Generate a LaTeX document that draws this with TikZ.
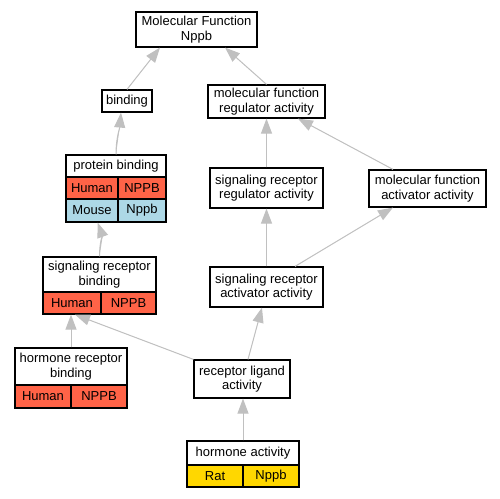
\documentclass[tikz,border=0pt]{standalone}
\usepackage{fontspec}
\setmainfont{Liberation Sans}
\usepackage{tikz}
\definecolor{humanred}{HTML}{FF6347}
\definecolor{mouseblue}{HTML}{ADD8E6}
\definecolor{ratgold}{HTML}{FFD700}
\definecolor{edgegray}{HTML}{C0C0C0}
\usetikzlibrary{positioning, arrows.meta, calc}

\begin{document}
\begin{tikzpicture}[x=0.75pt, y=-0.75pt]
    \tikzstyle{every node}=[font=\fontsize{9.75pt}{11pt}\selectfont] \tikzstyle{term} =
    [rectangle, draw=black, line width=0.9pt, fill=white, align=center, inner sep=0pt]
    \tikzstyle{box} = [term, minimum width=#1*0.75pt]
    \tikzstyle{cell} = [rectangle, draw=black, line width=0.9pt, inner sep=0pt, minimum height=22*0.75pt]
    \tikzstyle{edge} = [-{Triangle[length=11.25pt,width=8.25pt]}, draw=edgegray, fill=edgegray, line width=0.75pt]

    \useasboundingbox (0,0) rectangle (500,499);

    % plain terms
    \node[box=121, minimum height=35*0.75pt](mf) at (196.5,29.5) {Molecular Function\\Nppb};
    \node[box=50, minimum height=22*0.75pt](bind) at (127,101) {binding};
    \node[box=117, minimum height=33*0.75pt](mfreg) at (266.5,101.5) {molecular function\\regulator activity};
    \node[box=113, minimum height=40*0.75pt](srreg) at (266.5,188) {signaling receptor\\regulator activity};
    \node[box=117, minimum height=37*0.75pt](mfact) at (427.5,188.5) {molecular function\\activator activity};
    \node[box=113, minimum height=40*0.75pt](sract) at (266.5,287) {signaling receptor\\activator activity};
    \node[box=96, minimum height=38*0.75pt](rlig) at (242,379) {receptor ligand\\activity};

    % terms with gene tables
    \node[box=100, minimum height=22*0.75pt](pb) at (116,166) {protein binding};
    \node[cell, fill=humanred, minimum width=52*0.75pt](pbh1) at (92,188) {Human};
    \node[cell, fill=humanred, minimum width=48*0.75pt](pbh2) at (142,188) {NPPB};
    \node[cell, fill=mouseblue, minimum width=52*0.75pt, minimum height=23*0.75pt](pbm1) at (92,210.5) {Mouse};
    \node[cell, fill=mouseblue, minimum width=48*0.75pt, minimum height=23*0.75pt](pbm2) at (142,210.5) {Nppb};

    \node[box=113, minimum height=35*0.75pt](srb) at (99.5,274.5) {signaling receptor\\binding};
    \node[cell, fill=humanred, minimum width=58*0.75pt](srbh1) at (72,303) {Human};
    \node[cell, fill=humanred, minimum width=55*0.75pt](srbh2) at (128.5,303) {NPPB};

    \node[box=112, minimum height=37*0.75pt](hrb) at (71,366.5) {hormone receptor\\binding};
    \node[cell, fill=humanred, minimum width=56*0.75pt, minimum height=23*0.75pt](hrbh1) at (43,396.5) {Human};
    \node[cell, fill=humanred, minimum width=56*0.75pt, minimum height=23*0.75pt](hrbh2) at (99,396.5) {NPPB};

    \node[box=112, minimum height=24*0.75pt](ha) at (243,453) {hormone activity};
    \node[cell, fill=ratgold, minimum width=56*0.75pt](har1) at (215,476) {Rat};
    \node[cell, fill=ratgold, minimum width=56*0.75pt](har2) at (271,476) {Nppb};

    % is_a edges
    \draw[edge] (bind.north) -- ([xshift=-27.4pt]mf.south);
    \draw[edge] (mfreg.north) -- ([xshift=21.4pt]mf.south);
    \draw[edge] (pb.north) to[out=90, in=-95] ([xshift=-4.5pt]bind.south);
    \draw[edge] (srb.north) to[out=90, in=-70] ([xshift=-15.75pt]pbm1.south east);
    \draw[edge] (srreg.north) -- (mfreg.south);
    \draw[edge] ([xshift=-25.9pt]mfact.north) -- ([xshift=23.6pt]mfreg.south);
    \draw[edge] (sract.north) -- (srreg.south);
    \draw[edge] ([xshift=21.4pt]sract.north) -- ([xshift=-25.9pt]mfact.south);
    \draw[edge] (hrb.north) -- (hrb.north |- srbh1.south);
    \draw[edge] (rlig.north west) -- ([xshift=2.25pt]srbh1.south);
    \draw[edge] ([xshift=4.5pt]rlig.north) -- ([xshift=-3.4pt]sract.south);
    \draw[edge] (ha.north) -- (ha.north |- rlig.south);
\end{tikzpicture}
\end{document}
